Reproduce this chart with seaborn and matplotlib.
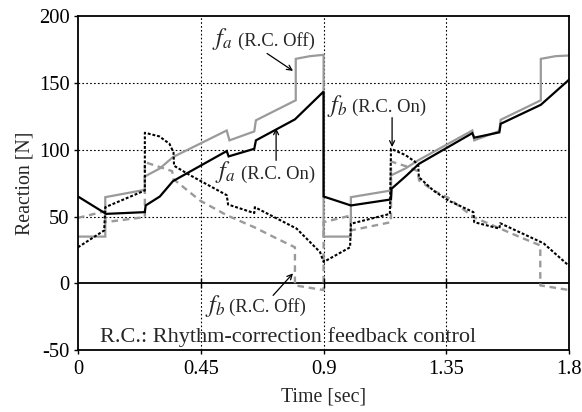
import matplotlib
matplotlib.use("Agg")
import matplotlib.pyplot as plt
import seaborn as sns
import pandas as pd

# ---- data ----
fa_off_t = [0, 0.1, 0.1, 0.245, 0.245, 0.30, 0.348, 0.545, 0.555, 0.646, 0.652, 0.798, 0.798, 0.85, 0.9,
            0.9, 1.0, 1.0, 1.147, 1.147, 1.20, 1.246, 1.445, 1.452, 1.544, 1.549, 1.696, 1.696, 1.75, 1.8]
fa_off_v = [35, 35, 64.5, 70, 80, 86, 94.5, 114.4, 107, 113.7, 122, 137, 168, 170, 171,
            35, 35, 64.5, 69.5, 80.8, 86, 92, 114.4, 107, 114, 122.4, 137, 168, 170, 170.5]

fa_on_t = [0, 0.103, 0.245, 0.248, 0.30, 0.348, 0.545, 0.552, 0.646, 0.652, 0.795, 0.9,
           0.9, 1.0, 1.147, 1.149, 1.20, 1.25, 1.445, 1.452, 1.544, 1.549, 1.696, 1.8]
fa_on_v = [65, 52, 53.3, 58.3, 65, 76.5, 99, 95, 100.7, 107, 122.7, 143.5,
           65, 58.3, 62.8, 70.8, 80, 89.5, 112.4, 109, 113, 119.4, 133.6, 152.5]

fb_off_t = [0, 0.1, 0.1, 0.245, 0.245, 0.30, 0.345, 0.35, 0.447, 0.545, 0.646, 0.73, 0.795, 0.795, 0.9,
            0.9, 1.0, 1.0, 1.147, 1.147, 1.204, 1.245, 1.25, 1.302, 1.357, 1.449, 1.547, 1.62, 1.694, 1.694, 1.8]
fb_off_v = [49, 54, 45.8, 49.6, 90.7, 87, 84, 78, 62, 51, 42, 33.4, 27, -1.5, -5,
            45.8, 50.8, 39.6, 45.8, 91.2, 87.5, 84, 77, 69.5, 64, 49.6, 41, 34.6, 28.4, -1.5, -5]

fb_on_t = [0, 0.096, 0.1, 0.245, 0.245, 0.298, 0.335, 0.35, 0.352, 0.41, 0.545, 0.55, 0.646, 0.648, 0.801, 0.887, 0.9,
           0.997, 1.0, 1.143, 1.147, 1.20, 1.235, 1.247, 1.249, 1.302, 1.357, 1.449, 1.452, 1.544, 1.547, 1.706, 1.8]
fb_on_v = [27, 39.6, 57, 69.5, 112.7, 110, 104.5, 98, 88, 81, 66, 59, 52.6, 57, 41, 23.4, 16,
           27, 44.6, 52, 100.7, 96, 91, 88, 79.5, 69.5, 62, 53.3, 45.8, 41, 45, 30, 13]

x_ticks = [0, 0.45, 0.9, 1.35, 1.8]
x_tick_labels = ["0", "0.45", "0.9", "1.35", "1.8"]
y_ticks = [-50, 0, 50, 100, 150, 200]
y_tick_labels = ["-50", "0", "50", "100", "150", "200"]

# ---- style ----
sns.set_style("ticks")
plt.rcParams["font.family"] = ["Liberation Serif", "DejaVu Serif"]
plt.rcParams["mathtext.fontset"] = "stix"

fig = plt.figure(figsize=(5.82, 4.12), dpi=100)
ax = fig.add_axes([0.134, 0.150, 0.844, 0.811])

GRAY = "#9a9a9a"
series = [
    (fa_off_t, fa_off_v, GRAY, 1.6, (None, None)),
    (fb_off_t, fb_off_v, GRAY, 1.7, (2.8, 2.0)),
    (fb_on_t, fb_on_v, "black", 1.5, (1.4, 0.9)),
    (fa_on_t, fa_on_v, "black", 1.6, (None, None)),
]
for t, v, c, lw, dash in series:
    df = pd.DataFrame({"t": t, "v": v})
    sns.lineplot(data=df, x="t", y="v", sort=False, estimator=None, color=c, lw=lw, ax=ax)
    line = ax.lines[-1]
    if dash[0] is not None:
        line.set_dashes(dash)
    line.set_solid_joinstyle("miter")

# grid and zero line
for xv in x_ticks[1:-1]:
    ax.axvline(xv, color="black", lw=0.8, ls=(0, (1.5, 2.0)), zorder=0)
for yv in y_ticks[2:-1]:
    ax.axhline(yv, color="black", lw=0.8, ls=(0, (1.5, 2.0)), zorder=0)
ax.axhline(0, color="black", lw=1.3, zorder=1)
ax.plot(x_ticks[1:-1], [0] * 3, marker="|", ms=7, mew=1.0, ls="none", color="black")

ax.set_xlim(0, 1.8)
ax.set_ylim(-50, 200)
ax.set_xticks(x_ticks)
ax.set_xticklabels(x_tick_labels)
ax.set_yticks(y_ticks)
ax.set_yticklabels(y_tick_labels)
ax.tick_params(direction="out", length=3, width=1.0, labelsize=14.8, pad=3, colors="black")
ax.tick_params(axis="x", pad=4)
for s in ax.spines.values():
    s.set_visible(True)
    s.set_linewidth(1.3)
    s.set_color("black")
ax.set_xlabel("Time [sec]", fontsize=14.3, labelpad=6)
ax.set_ylabel("Reaction [N]", fontsize=14.3, labelpad=3)

# annotations
FS_F = 17.5
FS_P = 13.4
ax.text(0.490, 178, r"$f_{a}$", fontsize=FS_F, va="baseline")
ax.text(0.585, 178, "(R.C. Off)", fontsize=FS_P, va="baseline")
ax.text(0.502, 78.5, r"$f_{a}$", fontsize=FS_F, va="baseline")
ax.text(0.596, 78.5, "(R.C. On)", fontsize=FS_P, va="baseline")
ax.text(0.911, 128, r"$f_{b}$", fontsize=FS_F, va="baseline")
ax.text(1.005, 128, "(R.C. On)", fontsize=FS_P, va="baseline")
ax.text(0.466, -21.5, r"$f_{b}$", fontsize=FS_F, va="baseline")
ax.text(0.553, -21.5, "(R.C. Off)", fontsize=FS_P, va="baseline")

arrow = dict(arrowstyle="->", color="black", lw=0.9, shrinkA=0, shrinkB=0, mutation_scale=9)
ax.annotate("", xy=(0.788, 159), xytext=(0.693, 172), arrowprops=arrow)
ax.annotate("", xy=(0.726, 116), xytext=(0.726, 92), arrowprops=arrow)
ax.annotate("", xy=(1.151, 102), xytext=(1.151, 124), arrowprops=arrow)
ax.annotate("", xy=(0.788, 7.5), xytext=(0.715, -9), arrowprops=arrow)

ax.text(0.081, -44, "R.C.: Rhythm-correction feedback control", fontsize=16, va="baseline")

fig.savefig("out.png", dpi=100)
